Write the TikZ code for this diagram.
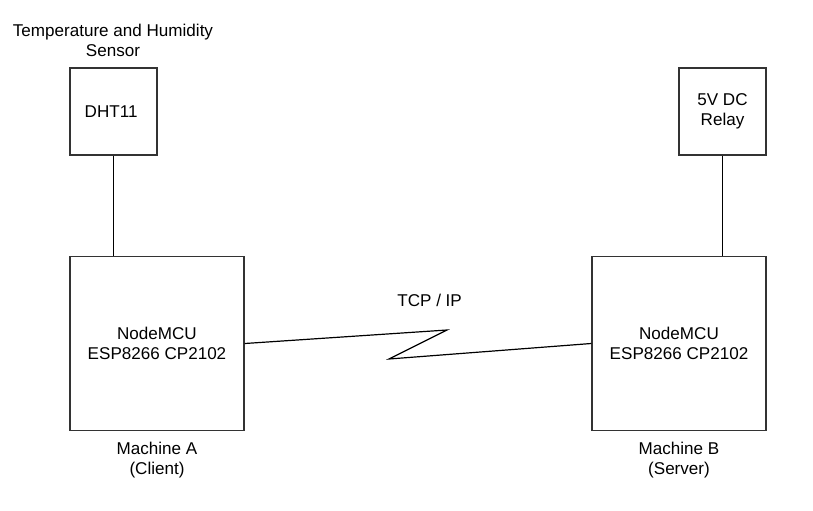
\documentclass[tikz,border=0pt]{standalone}
\usepackage{fontspec}
\setmainfont{Liberation Sans}
\begin{document}
\begin{tikzpicture}[x=0.75pt,y=-0.75pt,
        every node/.style={font=\fontsize{12.8}{15}\selectfont, align=center},
        smallbox/.style={draw=black!80, line width=1.1pt, minimum width=65.25pt, minimum height=65.25pt, inner sep=0pt},
        bigbox/.style={draw=black!80, line width=1.1pt, minimum width=130.5pt, minimum height=130.5pt, inner sep=0pt},
        wire/.style={draw=black, line width=0.9pt}]
        \useasboundingbox (0, 0) rectangle (813, 510);

        \node (sensorlbl) at (113, 40) { Temperature and Humidity \\ Sensor };
        \node[smallbox] (dht) at (113.5, 111.5) { DHT11 };
        \node[smallbox] (relay) at (722.5, 111.5) { 5V DC \\ Relay };

        \node[bigbox] (ma) at (157, 343.5) { NodeMCU \\ ESP8266 CP2102 };
        \node[bigbox] (mb) at (679, 343.5) { NodeMCU \\ ESP8266 CP2102 };

        \node (malbl) at (157, 460) { Machine A \\ (Client) };
        \node (mblbl) at (679, 460) { Machine B \\ (Server) };
        \node (tcp) at (432, 300) { TCP / IP };

        \coordinate (k1) at (447, 330);
        \coordinate (k2) at (389, 359);

        \draw[wire] (dht.south) -- (dht.south |- ma.north);
        \draw[wire] (relay.south) -- (relay.south |- mb.north);
        \draw[wire, line join=miter] (ma.east) -- (k1) -- (k2) -- (mb.west);

    \end{tikzpicture}
\end{document}
